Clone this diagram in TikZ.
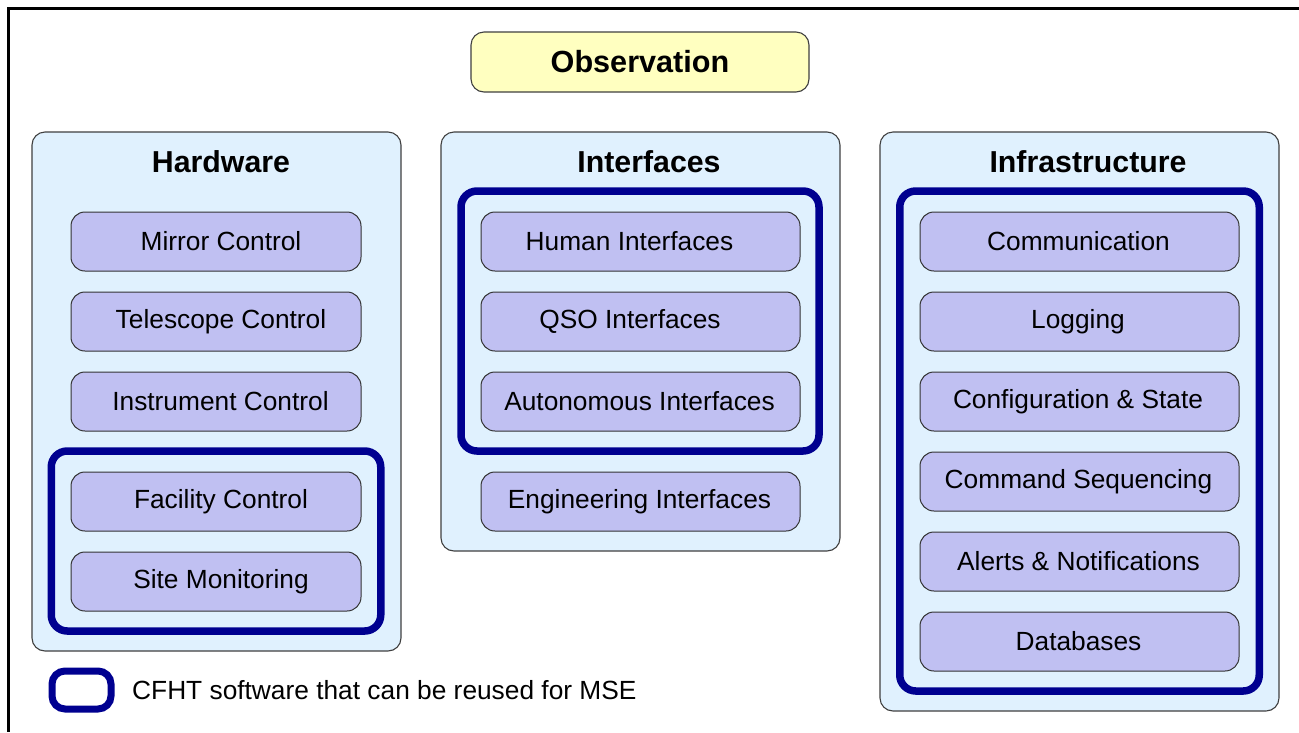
\documentclass[tikz,border=0pt]{standalone}
\usepackage{fontspec}
\setmainfont{Liberation Sans}
\begin{document}
\begin{tikzpicture}[x=1pt,y=-1pt,
  panel/.style={draw=black!75,line width=1.1pt,fill=panelfill,rounded corners=13pt,inner sep=0pt},
  item/.style={draw=black!80,line width=1pt,fill=itemfill,rounded corners=14pt,
    minimum height=59pt,inner sep=0pt,font=\fontsize{26.3}{30}\selectfont},
  header/.style={inner sep=0pt,font=\bfseries\fontsize{30.3}{34}\selectfont},
  reuse/.style={draw=reuseblue,line width=7.5pt,rounded corners=16pt,inner sep=0pt},
  hwitem/.style={item,minimum width=290pt},
  ifitem/.style={item,minimum width=319pt},
  initem/.style={item,minimum width=319pt}]
\definecolor{panelfill}{HTML}{E0F1FE}
\definecolor{itemfill}{HTML}{C0C0F2}
\definecolor{obsfill}{HTML}{FFFFC0}
\definecolor{reuseblue}{HTML}{000090}
% shift a label right (\rs) or left (\ls) within its box
\newcommand{\rs}[2]{\hspace*{#1pt}#2}
\newcommand{\ls}[2]{#2\hspace*{#1pt}}

\useasboundingbox (0,0) rectangle (1299,732);
\fill[white] (0,0) rectangle (1299,732);

% frame lines along the top and left
\coordinate (ftop) at (1299,8.5);
\coordinate (fcorner) at (8.5,8.5);
\coordinate (fbot) at (8.5,732);
\draw[line width=2.5pt] (ftop) -- (fcorner) -- (fbot);

% top box
\node[draw=black!75,line width=1.1pt,fill=obsfill,rounded corners=13pt,
  minimum width=338pt,minimum height=60pt,inner sep=0pt,
  font=\bfseries\fontsize{30.6}{34}\selectfont] (obs) at (640,62) {Observation};

% panels
\node[panel,minimum width=369pt,minimum height=519pt] (hw) at (216.5,391.5) {};
\node[panel,minimum width=399pt,minimum height=419pt] (if) at (640.5,341.5) {};
\node[panel,minimum width=399pt,minimum height=579pt] (in) at (1079.5,421.5) {};

\node[header] (hwh) at (221,162) {Hardware};
\node[header] (ifh) at (649,162) {Interfaces};
\node[header] (inh) at (1088,162) {Infrastructure};

% reusable groups
\node[reuse,minimum width=329.5pt,minimum height=180pt] (hwr) at (216,541) {};
\node[reuse,minimum width=358pt,minimum height=260pt] (ifr) at (640,321) {};
\node[reuse,minimum width=359.5pt,minimum height=500pt] (inr) at (1079.5,441) {};

% hardware
\node[hwitem] (mirror) at (216,241.5) {\rs{10}{Mirror Control}};
\node[hwitem] (tel) at (216,321.5) {\rs{10}{Telescope Control}};
\node[hwitem] (inst) at (216,401.5) {\rs{9}{Instrument Control}};
\node[hwitem] (fac) at (216,501.5) {\rs{10}{Facility Control}};
\node[hwitem] (site) at (216,581.5) {\rs{10}{Site Monitoring}};

% interfaces
\node[ifitem] (human) at (640.5,241.5) {\ls{22}{Human Interfaces}};
\node[ifitem] (qso) at (640.5,321.5) {\ls{21}{QSO Interfaces}};
\node[ifitem] (auto) at (640.5,401.5) {\ls{2}{Autonomous Interfaces}};
\node[ifitem] (eng) at (640.5,501.5) {\ls{2}{Engineering Interfaces}};

% infrastructure
\node[initem] (comm) at (1079.5,241.5) {\ls{2}{Communication}};
\node[initem] (log) at (1079.5,321.5) {\ls{3}{Logging}};
\node[initem] (conf) at (1079.5,401.5) {\ls{3}{Configuration \& State}};
\node[initem] (cmd) at (1079.5,481.5) {\ls{2}{Command Sequencing}};
\node[initem] (alert) at (1079.5,561.5) {\ls{2}{Alerts \& Notifications}};
\node[initem] (db) at (1079.5,641.5) {\ls{2}{Databases}};

% legend
\node[reuse,rounded corners=13pt,line width=7pt,minimum width=59pt,minimum height=38pt] (leg) at (81.5,690) {};
\node[anchor=west,inner sep=0pt,font=\fontsize{26.3}{30}\selectfont] (legt) at (132,690) {CFHT software that can be reused for MSE};
\end{tikzpicture}
\end{document}
